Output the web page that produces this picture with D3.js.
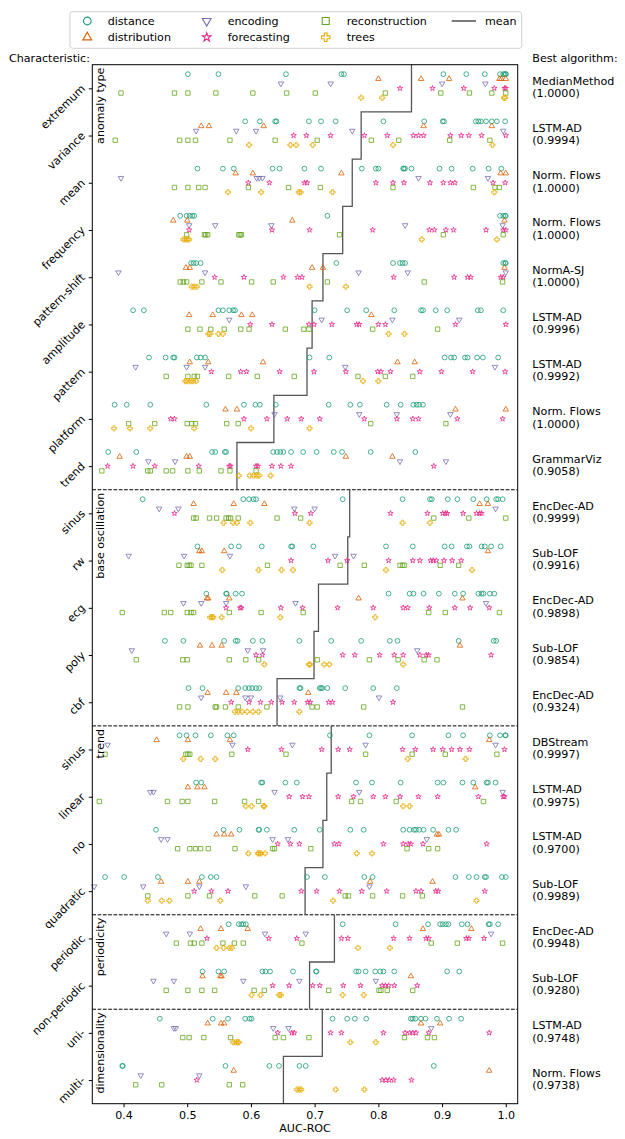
<!DOCTYPE html>
<html><head><meta charset="utf-8">
<script src="https://cdn.jsdelivr.net/npm/d3@7"></script>
<style>
body{margin:0;background:#fff}
text{font-family:"DejaVu Sans",sans-serif;font-size:11.1px;fill:#000}
</style>
</head><body><svg id="c" width="625" height="1139"></svg>
<script>
const categories = ["extremum","variance","mean","frequency","pattern-shift","amplitude","pattern","platform","trend",
  "sinus","rw","ecg","poly","cbf","sinus","linear","no","quadratic","periodic","non-periodic","uni-","multi-"];
const groupNames = ["anomaly type","base oscillation","trend","periodicity","dimensionality"];
const groupSizes = [9,5,4,2,2];
const families = ["distance","distribution","encoding","forecasting","reconstruction","trees"];
const xTicks = [0.4,0.5,0.6,0.7,0.8,0.9,1.0];

const distance = [
 [.501,.549,.655,.742,.746,.902,.938,.967,.991,.996,.998,1.0,1.0],
 [.591,.614,.638,.640,.691,.710,.733,.808,.872,.901,.903,.953,.957,.961,.969,.978,.986,.999],
 [.516,.556,.573,.634,.645,.684,.710,.774,.796,.800,.839,.840,.842,.852,.896,.915,.948,.973,.993],
 [.489,.499,.504,.508,.511,.720,.991,.996,.999,1.0],
 [.506,.510,.514,.521,.734,.823,.834,.838,.842,.996,.999,1.0],
 [.415,.432,.549,.556,.566,.572,.575,.700,.751,.781,.825,.867,.870,.890,.908,.956,.961,.996],
 [.440,.466,.478,.480,.515,.521,.528,.692,.723,.904,.914,.919,.936,.940,.955,.964,.988],
 [.386,.405,.442,.530,.589,.607,.614,.639,.722,.756,.771,.813,.835,.855,.860,.864,.870],
 [.376,.420,.539,.544,.559,.561,.635,.641,.646,.651,.663,.682,.703,.730,.743,.788,.858],
 [.430,.588,.597,.604,.608,.744,.838,.881,.884,.909,.924,.949,.970,.985,.988,.995],
 [.516,.569,.581,.617,.663,.665,.698,.812,.854,.904,.915,.939,.943,.962,.967,.977,.992],
 [.530,.561,.562,.576,.586,.816,.849,.855,.871,.895,.920,.933,.957,.962,.965,.975,.982],
 [.465,.494,.558,.576,.579,.603,.618,.676,.726,.773,.818,.830,.926,.981,.985],
 [.502,.524,.580,.591,.597,.602,.608,.613,.676,.678,.708,.710,.712,.720,.748,.792,.829],
 [.488,.499,.513,.537,.563,.573,.724,.786,.853,.910,.933,.975,.991,.999,1.0],
 [.514,.522,.616,.618,.654,.672,.765,.790,.835,.893,.902,.932,.949,.970,.972,.984],
 [.451,.557,.582,.612,.613,.625,.668,.708,.756,.777,.839,.849,.856,.859,.864,.871,.886,.910,.922],
 [.371,.401,.454,.523,.537,.546,.688,.716,.778,.791,.921,.942,.954,.967,.969,.994,1.0],
 [.565,.581,.585,.588,.592,.744,.827,.878,.897,.901,.906,.910,.931,.940,.973,.975,.988],
 [.524,.549,.558,.618,.623,.630,.666,.702,.703,.765,.769,.780,.795,.803,.808,.825,.908,.927],
 [.457,.540,.564,.591,.598,.601,.728,.751,.763,.781,.851,.854,.858,.867,.874,.892,.911,.930],
 [.398,.399,.560,.629,.644,.676,.686,.887]
];
const distribution = [
 [.800,.867,.911,.990,.993,1.0],
 [.522,.534,.620,.871,.978],
 [.576,.603,.742,.992,1.0],
 [.478,.500,.665,.998],
 [.498,.504,.696,.713,.998],
 [.503,.540,.585,.602,.789],
 [.504,.533,.619,.830,.857],
 [.560,.578,.921,1.0],
 [.394,.499,.504,.749,.822],
 [.510,.573,.621,.959,.972],
 [.519,.523,.558,.972],
 [.531,.533,.566,.769,.932],
 [.520,.539,.554,.928],
 [.532,.561,.577,.690],
 [.452,.501,.567,.974],
 [.501,.516,.527,.952],
 [.546,.558,.569,.892,.895],
 [.459,.501,.519,.787,.885],
 [.521,.553,.595,.870,.946],
 [.524,.552,.554,.851],
 [.532,.553,.558,.867,.897],
 [.573,.974]
];
const encoding = [
 [.647,.725,.900,.968],
 [.514,.577,.608,.759,.996],
 [.396,.609,.613,.618,.863,.972],
 [.503,.544,.632,.842,.995],
 [.392,.528,.769,.846,1.0],
 [.566,.711,.822,.927],
 [.419,.499,.528,.748,.983],
 [.637,.770,.829,.913],
 [.439,.481,.834,.906],
 [.456,.486,.668,.700,.984],
 [.408,.495,.567,.732,.761],
 [.494,.522,.561,.670,.969],
 [.413,.595,.619,.861],
 [.522,.591,.600,.646,.801],
 [.375,.571,.665,.780,.984],
 [.442,.447,.637,.770,.995],
 [.459,.469,.634,.658,.876],
 [.354,.431,.519,.592,.786],
 [.467,.504,.622,.686,.977],
 [.447,.479,.588,.676,.796],
 [.479,.482,.635,.659,.883],
 [.427,.519]
];
const forecasting = [
 [.834,.885,.934,.982,.998,1.0],
 [.667,.687,.725,.778,.814,.855,.863,.871,.913,.930,.942,.962,1.0],
 [.596,.629,.684,.688,.796,.823,.840,.881,.902,.913,.920,.980,.999],
 [.503,.633,.692,.791,.880,.888,.906,.918,.969,.996,1.0],
 [.543,.589,.651,.673,.680,.824,.919,.940,.945,.992,.996],
 [.599,.633,.691,.699,.727,.766,.770,.800,.811,.921,1.0],
 [.538,.584,.593,.645,.699,.749,.799,.804,.819,.865,.899,.948,.999],
 [.474,.480,.589,.625,.657,.679,.708,.778,.829,.854,.863,.924,.995],
 [.375,.415,.449,.518,.566,.568,.608,.611,.633,.647,.663,.887],
 [.480,.669,.694,.819,.877,.901,.905,.908,.933,.954,.959,.962],
 [.663,.721,.751,.816,.854,.865,.882,.886,.891,.903,.916,.930],
 [.561,.583,.585,.647,.681,.736,.792,.839,.846,.880,.920,.944,.974],
 [.608,.618,.744,.763,.802,.825,.839,.865,.875,.879,.977],
 [.569,.597,.615,.632,.649,.668,.689,.693,.722,.728,.823],
 [.595,.648,.711,.737,.755,.838,.858,.886,.901,.915,.928,.943,.998],
 [.660,.681,.691,.737,.761,.792,.811,.834,.863,.893,.957,.996,.998],
 [.642,.662,.676,.731,.738,.808,.839,.847,.851,.870,.970],
 [.511,.538,.564,.679,.703,.739,.774,.813,.859,.867,.890,.894,.967],
 [.531,.628,.672,.742,.752,.824,.849,.875,.879,.938,.942,.966],
 [.634,.660,.697,.708,.745,.772,.806,.811,.816,.825,.861],
 [.642,.664,.668,.725,.742,.808,.842,.849,.854,.859,.879,.974],
 [.515,.806,.812,.817,.824,.852]
];
const reconstruction = [
 [.396,.480,.501,.545,.603,.656,.701,.811,.898,.943,.978,1.0],
 [.387,.488,.501,.513,.567,.638,.704,.789,.832,.912,.975],
 [.480,.501,.518,.528,.596,.659,.709,.823,.949,.983,.990],
 [.499,.527,.529,.532,.581,.583,.585,.739,.902,.996],
 [.489,.494,.499,.523,.553,.601,.635,.720,.872,.995],
 [.501,.520,.537,.558,.584,.597,.654,.683,.691,.791,.893],
 [.467,.501,.511,.516,.565,.610,.668,.768,.811,.854],
 [.408,.449,.500,.507,.513,.562,.580,.788,.906],
 [.366,.438,.442,.467,.477,.501,.519,.553,.567,.608],
 [.510,.514,.535,.546,.561,.565,.568,.580,.641,.678,.887,.942,1.0],
 [.487,.500,.503,.506,.523,.626,.740,.778,.834,.838,.841,.897,.926],
 [.398,.464,.474,.500,.506,.510,.566,.616,.682,.879,.905,.990],
 [.420,.493,.500,.566,.592,.612,.704,.786,.831,.872,.892],
 [.488,.501,.544,.546,.560,.580,.625,.696,.704,.777,.932],
 [.371,.498,.501,.504,.570,.655,.780,.853,.905,.986],
 [.362,.469,.492,.501,.543,.590,.612,.758,.772,.828,.965],
 [.485,.504,.513,.521,.533,.575,.634,.637,.694,.845,.879,.893],
 [.438,.501,.535,.606,.649,.748,.753,.791,.838,.869],
 [.483,.505,.511,.523,.556,.574,.588,.680,.883,.924,.995],
 [.467,.501,.523,.543,.605,.621,.722,.801,.804,.814,.854],
 [.493,.503,.526,.568,.638,.651,.691,.841,.877,.888],
 [.419,.460,.566,.587]
];
const trees = [
 [.773,.806,.997,.999],
 [.597,.662,.671,.697,.823,.979],
 [.564,.616,.675,.678,.728,.982],
 [.494,.497,.500,.503,.868,.986],
 [.507,.511,.515,.692,.749],
 [.533,.536,.549,.556,.816,.841],
 [.497,.500,.505,.509,.514,.776,.800],
 [.385,.410,.442,.511,.600,.692],
 [.581,.598,.604,.609,.613,.631],
 [.557,.572,.578,.599,.692,.838,.881],
 [.555,.612,.648,.666,.812,.947],
 [.536,.539,.541,.554,.646,.795],
 [.621,.691,.693,.715,.723,.839],
 [.575,.580,.586,.594,.603,.612,.676],
 [.494,.521,.544,.846,.937],
 [.592,.601,.620,.621,.839,.849],
 [.596,.611,.613,.616,.622,.766,.790],
 [.438,.460,.472,.552,.729,.954],
 [.546,.557,.566,.570,.768,.818],
 [.601,.615,.644,.647,.744,.777],
 [.572,.576,.579,.581,.756,.796],
 [.672,.676,.679,.733,.778]
];
const meanAUC = [.852,.773,.759,.744,.713,.696,.688,.636,.578,
  .755,.752,.706,.699,.641, .726,.719,.713,.685, .731,.692, .712,.651];
const bestAlgorithm = ["MedianMethod","LSTM-AD","Norm. Flows","Norm. Flows","NormA-SJ","LSTM-AD","LSTM-AD","Norm. Flows","GrammarViz",
  "EncDec-AD","Sub-LOF","EncDec-AD","Sub-LOF","EncDec-AD","DBStream","LSTM-AD","LSTM-AD","Sub-LOF","EncDec-AD","Sub-LOF","LSTM-AD","Norm. Flows"];
const bestScore = ["1.0000","0.9994","1.0000","1.0000","1.0000","0.9996","0.9992","1.0000","0.9058",
  "0.9999","0.9916","0.9898","0.9854","0.9324","0.9997","0.9975","0.9700","0.9989","0.9948","0.9280","0.9748","0.9738"];

const familyData = [distance, distribution, encoding, forecasting, reconstruction, trees];
const colors = ["#1b9e77","#d95f02","#7570b3","#e7298a","#66a61e","#e6ab02"];
const offsets = [-0.3,-0.2,-0.1,0,0.1,0.2];
const symTypes = [d3.symbolCircle, d3.symbolTriangle, d3.symbolTriangle, d3.symbolStar, d3.symbolSquare, d3.symbolCross];
const symSizes = [18, 13, 13, 9, 19, 15];
const symRot = [0,0,180,0,0,0];

const svg = d3.select("#c");
const L = 92.3, R = 517.7, T = 64.7, B = 1103.7;
const x = d3.scaleLinear().domain([0.351, 1.0187]).range([L, R]);
const y = d3.scaleLinear().domain([-0.5, categories.length - 0.5]).range([T, B]);

// separators
let acc = 0;
const groupStarts = [];
groupSizes.forEach(s => { groupStarts.push(acc); acc += s; });
groupStarts.slice(1).forEach(s => {
  svg.append("line").attr("x1", L).attr("x2", R).attr("y1", y(s - 0.5)).attr("y2", y(s - 0.5))
    .attr("stroke", "#000").attr("stroke-width", 1).attr("stroke-dasharray", "3.7,1.6");
});

// mean step lines
groupStarts.forEach((s, gi) => {
  const n = groupSizes[gi];
  let d = "";
  for (let k = 0; k < n; k++) {
    const i = s + k;
    d += (k === 0 ? "M" : "L") + x(meanAUC[i]) + "," + y(i - 0.5) + "L" + x(meanAUC[i]) + "," + y(i + 0.5);
  }
  svg.append("path").attr("d", d).attr("fill", "none").attr("stroke", "#555").attr("stroke-width", 1.3);
});

// markers
familyData.forEach((fam, fi) => {
  const pts = [];
  fam.forEach((vals, ci) => vals.forEach(v => pts.push({v, ci})));
  const sym = d3.symbol().type(symTypes[fi]).size(symSizes[fi]);
  svg.append("g").selectAll("path").data(pts).join("path")
    .attr("d", sym)
    .attr("transform", p => `translate(${x(p.v)},${y(p.ci + offsets[fi])}) rotate(${symRot[fi]})`)
    .attr("fill", "none").attr("stroke", colors[fi]).attr("stroke-width", 1).attr("stroke-opacity", 0.8);
});

// frame
svg.append("rect").attr("x", L).attr("y", T).attr("width", R - L).attr("height", B - T)
  .attr("fill", "none").attr("stroke", "#000").attr("stroke-width", 1);

// x axis
const xa = svg.append("g").attr("transform", `translate(0,${B})`)
  .call(d3.axisBottom(x).tickValues(xTicks).tickSize(3.5).tickPadding(3.5).tickFormat(d3.format(".1f")));
xa.select(".domain").remove();
xa.selectAll("text").style("font-family", "DejaVu Sans").style("font-size", "11.1px").attr("fill", "#000");
svg.append("text").attr("x", (L + R) / 2).attr("y", 1128).attr("text-anchor", "middle")
  .attr("dominant-baseline", "central").text("AUC-ROC");

// y axis
const ya = svg.append("g").attr("transform", `translate(${L},0)`)
  .call(d3.axisLeft(y).tickValues(d3.range(categories.length)).tickSize(3.5).tickFormat(i => categories[i]));
ya.select(".domain").remove();
ya.selectAll("text").attr("x", null).attr("dy", null)
  .attr("text-anchor", "end").attr("dominant-baseline", "central")
  .attr("transform", "translate(-9,-2) rotate(-45)")
  .style("font-family", "DejaVu Sans").style("font-size", "11.1px").attr("fill", "#000");

// group labels
groupStarts.forEach((s, gi) => {
  const yy = y(s - 0.5) + 3;
  svg.append("text").attr("transform", `translate(100.8,${yy}) rotate(-90)`)
    .attr("text-anchor", "end").attr("dominant-baseline", "central").text(groupNames[gi]);
});

// headers
svg.append("text").attr("x", 9).attr("y", 58.3).attr("dominant-baseline", "central").text("Characteristic:");
svg.append("text").attr("x", 532.3).attr("y", 58.3).attr("dominant-baseline", "central").text("Best algorithm:");

// best algorithm labels
categories.forEach((c, i) => {
  svg.append("text").attr("x", 532.3).attr("y", y(i) - 7).attr("dominant-baseline", "central").text(bestAlgorithm[i]);
  svg.append("text").attr("x", 532.3).attr("y", y(i) + 5.3).attr("dominant-baseline", "central").text("(" + bestScore[i] + ")");
});

// legend
const lg = svg.append("g");
lg.append("rect").attr("x", 70).attr("y", 11.7).attr("width", 451.7).attr("height", 36.6).attr("rx", 2.5)
  .attr("fill", "#fff").attr("stroke", "#d0d0d0").attr("stroke-width", 1);
const legPos = [[87.3,21],[87.3,37.3],[206.7,21],[206.7,37.3],[325.7,21],[325.7,37.3]];
const legText = [107.7,107.7,227.7,227.7,346.7,346.7];
families.forEach((f, fi) => {
  const [lx, ly] = legPos[fi];
  lg.append("path").attr("d", d3.symbol().type(symTypes[fi]).size(symSizes[fi] * 2.6)())
    .attr("transform", `translate(${lx},${ly}) rotate(${symRot[fi]})`)
    .attr("fill", "none").attr("stroke", colors[fi]).attr("stroke-width", 1.1);
  lg.append("text").attr("x", legText[fi]).attr("y", ly).attr("dominant-baseline", "central").text(f);
});
lg.append("line").attr("x1", 451.7).attr("x2", 476).attr("y1", 21).attr("y2", 21).attr("stroke", "#333").attr("stroke-width", 1.3);
lg.append("text").attr("x", 485).attr("y", 21).attr("dominant-baseline", "central").text("mean");
</script></body></html>
